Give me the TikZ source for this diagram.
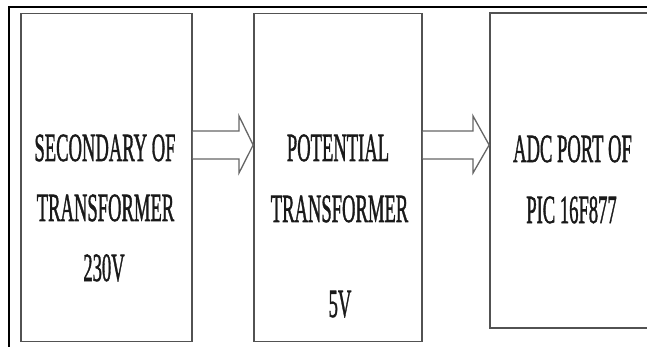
\documentclass[tikz,border=0pt]{standalone}
\usepackage{fontspec}
\setmainfont{Liberation Serif}
\newfontfamily\lblfont{Liberation Serif}[FakeBold=1.6]
\usepackage{graphicx}
\usetikzlibrary{calc}
\begin{document}
\begin{tikzpicture}[x=1pt,y=-1pt,
  blk/.style={draw=black!68, line width=1.7pt, rectangle, inner sep=0pt},
  lbl/.style={font=\lblfont\fontsize{40}{40}\selectfont, text=black!90, anchor=base, inner sep=0pt},
  arr/.style={draw=black!60, line width=1.3pt, fill=white, line join=miter}]
\path[use as bounding box] (0,0) rectangle (647,347);
\clip (0,0) rectangle (647,347);
% outer frame
\draw[line width=1.6pt] (9,350) -- (9,7.3) -- (660,7.3);
% boxes
\node[blk, minimum width=171pt, minimum height=328pt] (b1) at (106.5,177.5) {};
\node[blk, minimum width=168pt, minimum height=328pt] (b2) at (338,177.5) {};
\node[blk, minimum width=164pt, minimum height=315pt] (b3) at (572,170.5) {};
% arrows
\draw[arr] (b1.east |- 0,131) -- (239,131) -- (239,116) -- (b2.west |- 0,145)
  -- (239,173) -- (239,159) -- (b1.east |- 0,159);
\draw[arr] (b2.east |- 0,131) -- (473,131) -- (473,116) -- (b3.west |- 0,145)
  -- (473,173) -- (473,159) -- (b2.east |- 0,159);
% labels
\node[lbl] (s1) at (105,161) {\scalebox{0.465}[1]{SECONDARY OF}};
\node[lbl] (s2) at (105.5,221) {\scalebox{0.465}[1]{TRANSFORMER}};
\node[lbl] (s3) at (104,281) {\scalebox{0.465}[1]{230V}};
\node[lbl] (p1) at (338,161) {\scalebox{0.465}[1]{POTENTIAL}};
\node[lbl] (p2) at (339.5,222) {\scalebox{0.465}[1]{TRANSFORMER}};
\node[lbl] (p3) at (340,317) {\scalebox{0.465}[1]{5V}};
\node[lbl] (a1) at (572.5,162) {\scalebox{0.465}[1]{ADC PORT OF}};
\node[lbl] (a2) at (571.5,223) {\scalebox{0.465}[1]{PIC 16F877}};
\end{tikzpicture}
\end{document}
